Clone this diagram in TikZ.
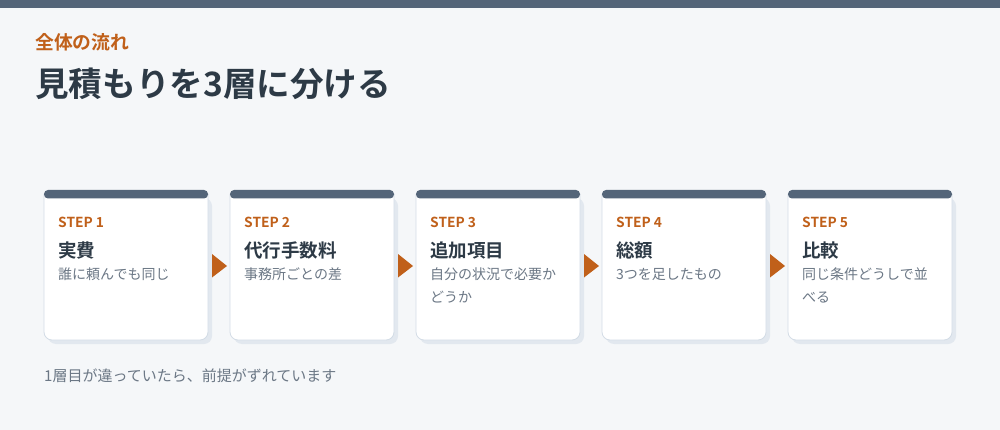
\documentclass[tikz,border=0pt]{standalone}
\usepackage{fontspec}
\setmainfont{Noto Sans CJK JP}[BoldFont={Noto Sans CJK JP Bold}]
\definecolor{bg}{HTML}{F5F7F9}
\definecolor{slate}{HTML}{546579}
\definecolor{accent}{HTML}{C0601A}
\definecolor{ink}{HTML}{2D3A46}
\definecolor{muted}{HTML}{6B7785}
\definecolor{cardline}{HTML}{D3DCE6}
\definecolor{shadowc}{HTML}{E2E8EF}
\tikzset{
  txt/.style={inner sep=0pt, anchor=base west},
  steplabel/.style={txt, text=accent, font=\bfseries\fontsize{13.8}{13.8}\selectfont},
  cardtitle/.style={txt, text=ink, font=\bfseries\fontsize{18.5}{18.5}\selectfont},
  carddesc/.style={txt, text=muted, font=\fontsize{14}{14}\selectfont},
  flowarrow/.style={fill=accent, draw=none},
}
\begin{document}
\begin{tikzpicture}[x=1pt,y=-1pt]
\useasboundingbox (0,0) rectangle (1000,430);
\fill[bg] (0,0) rectangle (1000,430);
\fill[slate] (0,0) rectangle (1000,8);
\node[txt, text=accent, font=\bfseries\fontsize{18.8}{18.8}\selectfont] (kicker) at (35,50) {全体の流れ};
\node[txt, text=ink, font=\bfseries\fontsize{33.6}{33.6}\selectfont] (heading) at (35,96.5) {見積もりを3層に分ける};
\foreach \i/\t/\d/\e in {1/実費/誰に頼んでも同じ/{},2/代行手数料/事務所ごとの差/{},3/追加項目/自分の状況で必要か/どうか,4/総額/3つを足したもの/{},5/比較/同じ条件どうしで並/べる}{
  \pgfmathsetmacro{\xl}{44+(\i-1)*186}
  \pgfmathsetmacro{\xr}{\xl+164}
  \fill[shadowc, rounded corners=8] (\xl+4,198) rectangle (\xr+4,344);
  \draw[cardline, fill=white, line width=0.8, rounded corners=8] (\xl,194) -- (\xl,340) -- (\xr,340) -- (\xr,194);
  \fill[slate, rounded corners=4] (\xl,190) rectangle (\xr,198.5);
  \node[steplabel] (s\i) at (\xl+14,227.5) {STEP \i};
  \node[cardtitle] (t\i) at (\xl+14,258) {\t};
  \node[carddesc] (d\i) at (\xl+14,279.5) {\d};
  \node[carddesc] (e\i) at (\xl+14,302.5) {\e};
}
\foreach \i in {1,...,4}{
  \pgfmathsetmacro{\xa}{212+(\i-1)*186}
  \fill[flowarrow] (\xa,254) -- (\xa+15,266) -- (\xa,277.5) -- cycle;
}
\node[txt, text=muted, font=\fontsize{15}{15}\selectfont] (note) at (44,381) {1層目が違っていたら、前提がずれています};
\end{tikzpicture}
\end{document}
